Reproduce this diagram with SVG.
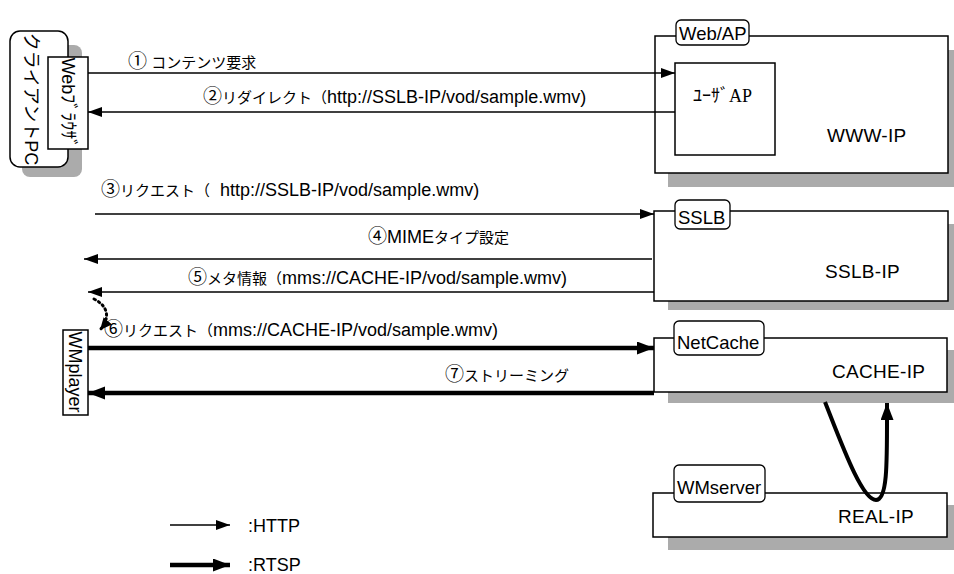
<svg xmlns="http://www.w3.org/2000/svg" width="954" height="574" viewBox="0 0 954 574">
  <defs>
    <marker id="head" markerUnits="userSpaceOnUse" markerWidth="15" markerHeight="11" refX="14" refY="5" orient="auto">
      <path d="M0,0 L14,5 L0,10 z" fill="#000"/>
    </marker>
    <marker id="headBold" markerUnits="userSpaceOnUse" markerWidth="18" markerHeight="14" refX="17" refY="6.5" orient="auto">
      <path d="M0,0 L17,6.5 L0,13 z" fill="#000"/>
    </marker>
    <marker id="headDot" markerUnits="userSpaceOnUse" markerWidth="14" markerHeight="12" refX="12" refY="5.5" orient="auto">
      <path d="M0,0 L12,5.5 L0,11 z" fill="#000"/>
    </marker>
  </defs>
  <style>
    text { font-family: "Liberation Sans", "Noto Sans CJK JP", sans-serif; fill: #000; }
    .lbl { font-size: 15px; }
    .num { font-family: "Noto Sans CJK JP", sans-serif; font-size: 19px; }
    .lat { font-size: 18px; }
    .ip { font-size: 19px; letter-spacing: 0.3px; }
    .tabtxt { font-size: 18.5px; }
    .vert { font-size: 18px; }
    .serif { font-family: "Liberation Serif", "Noto Sans CJK JP", serif; font-size: 18px; }
    .box { fill: #fff; stroke: #000; stroke-width: 1.5; }
    .tab { fill: #fff; stroke: #000; stroke-width: 1.3; }
    .shadow { fill: #ababab; }
    .http { fill: none; stroke: #000; stroke-width: 1.5; marker-end: url(#head); }
    .rtsp { fill: none; stroke: #000; stroke-width: 4.5; marker-end: url(#headBold); }
  </style>
  <rect width="954" height="574" fill="#fff"/>

  <!-- client PC with browser -->
  <g id="client-pc">
    <rect class="shadow" x="22" y="45" width="60" height="132" rx="8"/>
    <rect class="box" x="10" y="31" width="58" height="136" rx="10"/>
    <text class="vert" transform="translate(31,99) rotate(90)" text-anchor="middle" dominant-baseline="central">クライアントPC</text>
  </g>
  <g id="web-browser">
    <rect class="box" x="48" y="57" width="40" height="92"/>
    <text class="vert" font-size="17" transform="translate(68,103) rotate(90)" text-anchor="middle" dominant-baseline="central">Webﾌﾞﾗｳｻﾞ</text>
  </g>

  <!-- media player -->
  <g id="wmplayer">
    <rect class="box" x="63" y="330" width="25" height="85"/>
    <text class="vert" transform="translate(75,372) rotate(90)" text-anchor="middle" dominant-baseline="central">WMplayer</text>
  </g>

  <!-- web/application server -->
  <g id="web-ap">
    <rect class="shadow" x="668" y="50" width="286" height="137"/>
    <rect class="box" x="655" y="36" width="293" height="137"/>
    <rect class="tab" x="676" y="20" width="73" height="25" rx="5"/>
    <text class="tabtxt" x="679" y="40">Web/AP</text>
    <rect class="box" x="675" y="63" width="100" height="92"/>
    <text class="serif" x="693" y="102">ﾕｰｻﾞAP</text>
    <text class="ip" x="827" y="142">WWW-IP</text>
  </g>

  <!-- load balancer -->
  <g id="sslb">
    <rect class="shadow" x="668" y="224" width="286" height="86"/>
    <rect class="box" x="654" y="211" width="294" height="90"/>
    <rect class="tab" x="675" y="200" width="55" height="29" rx="5"/>
    <text class="tabtxt" x="678" y="224">SSLB</text>
    <text class="ip" x="825" y="278">SSLB-IP</text>
  </g>

  <!-- cache -->
  <g id="netcache">
    <rect class="shadow" x="668" y="350" width="286" height="53"/>
    <rect class="box" x="654" y="338" width="293" height="54"/>
    <rect class="tab" x="674" y="321" width="90" height="34" rx="5"/>
    <text class="tabtxt" x="677" y="349">NetCache</text>
    <text class="ip" x="832" y="378">CACHE-IP</text>
  </g>

  <!-- media server -->
  <g id="wmserver">
    <rect class="shadow" x="668" y="505" width="286" height="45"/>
    <rect class="box" x="653" y="493" width="294" height="44"/>
    <rect class="tab" x="674" y="465" width="91" height="37" rx="5"/>
    <text class="tabtxt" x="677" y="494">WMserver</text>
    <text class="ip" x="838" y="523">REAL-IP</text>
  </g>

  <!-- message flow -->
  <g id="connectors">
    <line class="http" x1="88" y1="73" x2="675" y2="73"/>
    <line class="http" x1="675" y1="112" x2="88" y2="112"/>
    <line class="http" x1="95" y1="214" x2="654" y2="214"/>
    <line class="http" x1="652" y1="259" x2="84" y2="259"/>
    <line class="http" x1="654" y1="292" x2="88" y2="292"/>
    <line class="rtsp" x1="88" y1="348" x2="654" y2="348"/>
    <line class="rtsp" x1="654" y1="393" x2="88" y2="393"/>
    <path d="M94,299 C106,305 112,316 100,330" fill="none" stroke="#000" stroke-width="3" stroke-dasharray="1.5,3.5" stroke-linecap="round" marker-end="url(#headDot)"/>
    <path d="M825,402 C842,445 862,500 876,500 C888,500 887,460 887,403" fill="none" stroke="#000" stroke-width="4" marker-end="url(#headBold)"/>
  </g>

  <!-- message labels -->
  <g id="labels">
    <text class="lbl" font-size="16" x="128" y="68"><tspan class="num">①</tspan> コンテンツ要求</text>
    <text class="lbl" x="203" y="103"><tspan class="num">②</tspan>リダイレクト（<tspan class="lat">http://SSLB-IP/vod/sample.wmv)</tspan></text>
    <text class="lbl" x="101" y="196"><tspan class="num">③</tspan>リクエスト（<tspan class="lat">&#160;&#160;http://SSLB-IP/vod/sample.wmv)</tspan></text>
    <text class="lbl" x="368" y="243"><tspan class="num">④</tspan><tspan class="lat">MIME</tspan>タイプ設定</text>
    <text class="lbl" x="188" y="284"><tspan class="num">⑤</tspan>メタ情報（<tspan class="lat">mms://CACHE-IP/vod/sample.wmv)</tspan></text>
    <text class="lbl" x="104" y="336"><tspan class="num">⑥</tspan>リクエスト（<tspan class="lat">mms://CACHE-IP/vod/sample.wmv)</tspan></text>
    <text class="lbl" x="445" y="381"><tspan class="num">⑦</tspan>ストリーミング</text>
  </g>

  <!-- legend -->
  <g id="legend">
    <line class="http" x1="170" y1="525" x2="230" y2="525"/>
    <text class="lat" x="248" y="532">:HTTP</text>
    <line class="rtsp" x1="170" y1="565" x2="230" y2="565"/>
    <text class="lat" x="248" y="571">:RTSP</text>
  </g>
</svg>
